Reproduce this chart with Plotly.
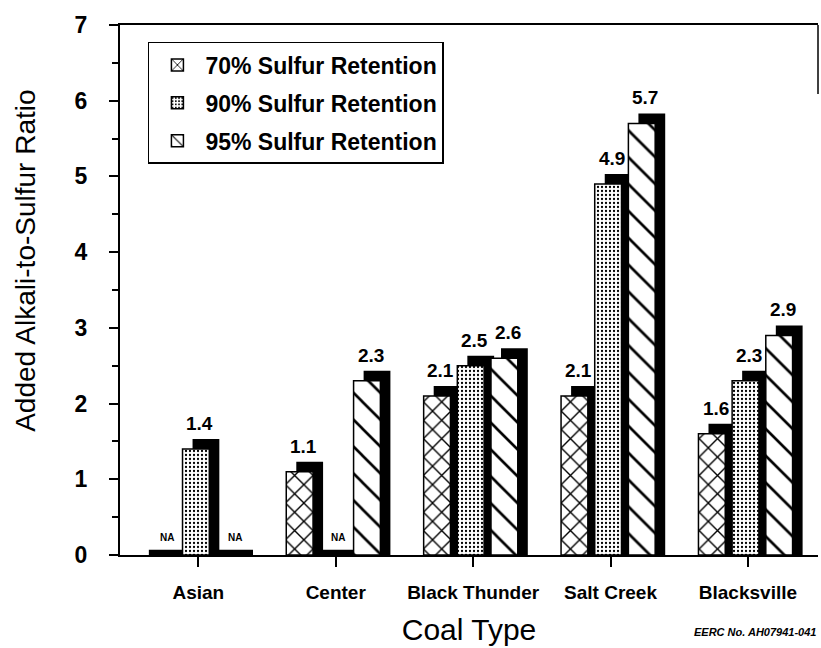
import plotly.graph_objects as go

# Coal types along the x axis
categories = ["Asian", "Center", "Black Thunder", "Salt Creek", "Blacksville"]

# Added alkali-to-sulfur ratio for each retention target (None = not available)
retention_70 = [None, 1.1, 2.1, 2.1, 1.6]
retention_90 = [1.4, None, 2.5, 4.9, 2.3]
retention_95 = [None, 2.3, 2.6, 5.7, 2.9]

series_names = ["70% Sulfur Retention", "90% Sulfur Retention", "95% Sulfur Retention"]
y_ticks = [0, 1, 2, 3, 4, 5, 6, 7]

FONT = "Arial, Liberation Sans, Helvetica, sans-serif"

# bar geometry in axis units
BAR_W = 0.195
OFFSETS = [-0.36, -0.115, 0.13]
DEPTH_X = 0.073     # 3-D side depth along x
DEPTH_Y = 0.132     # 3-D top depth along y
NA_H = 0.07

patterns = [
    dict(shape="x", size=13, solidity=0.2, fgcolor="black", bgcolor="white", fgopacity=1),
    dict(shape=".", size=4, solidity=0.25, fgcolor="black", bgcolor="white", fgopacity=1),
    dict(shape="\\", size=19, solidity=0.14, fgcolor="black", bgcolor="white", fgopacity=1),
]

series = [retention_70, retention_90, retention_95]
xpos = list(range(len(categories)))

fig = go.Figure()
annotations = []

for k, (name, vals) in enumerate(zip(series_names, series)):
    off = OFFSETS[k]
    # black extruded side/top of each bar
    tops = [None if v is None else v + DEPTH_Y for v in vals]
    fig.add_trace(go.Bar(
        x=xpos, y=tops, base=0, offset=off + DEPTH_X, width=BAR_W,
        marker=dict(color="black", line=dict(width=0)),
        showlegend=False, hoverinfo="skip",
    ))
    # flat slab for missing values
    na_vals = [NA_H if v is None else None for v in vals]
    fig.add_trace(go.Bar(
        x=xpos, y=na_vals, base=0, offset=off, width=BAR_W + DEPTH_X,
        marker=dict(color="black", line=dict(width=0)),
        showlegend=False, hoverinfo="skip",
    ))
    # patterned front face
    fig.add_trace(go.Bar(
        x=xpos, y=vals, offset=off, width=BAR_W, name=name,
        legendgroup=name,
        marker=dict(color="white", pattern=patterns[k],
                    line=dict(color="black", width=1.5)),
    ))
    for i, v in enumerate(vals):
        cx = i + off + (BAR_W + DEPTH_X) / 2
        if v is None:
            annotations.append(dict(
                x=cx, y=NA_H, xref="x", yref="y", text="<b>NA</b>",
                showarrow=False, yanchor="bottom", yshift=5,
                font=dict(family=FONT, size=10, color="black")))
        else:
            annotations.append(dict(
                x=cx - 0.01, y=v + DEPTH_Y, xref="x", yref="y", text=f"<b>{v}</b>",
                showarrow=False, yanchor="bottom", yshift=3,
                font=dict(family=FONT, size=19, color="black")))

# y-axis title
annotations.append(dict(
    x=-0.1347, y=0.555, xref="paper", yref="paper", xanchor="center", yanchor="middle",
    text="Added Alkali-to-Sulfur Ratio", textangle=-90, showarrow=False,
    font=dict(family=FONT, size=28, color="black")))

annotations.append(dict(
    x=1.0, y=-0.145, xref="paper", yref="paper", xanchor="right", yanchor="middle",
    text="<b><i>EERC No. AH07941-041</i></b>", showarrow=False,
    font=dict(family=FONT, size=11, color="black")))

fig.update_layout(
    width=821, height=648,
    margin=dict(l=120, r=3, t=25, b=93),
    paper_bgcolor="white", plot_bgcolor="white",
    barmode="overlay",
    font=dict(family=FONT, color="black"),
    showlegend=True,
    legend=dict(
        x=0.04, y=0.968, xanchor="left", yanchor="top",
        bgcolor="white", bordercolor="black", borderwidth=1.5,
        font=dict(family=FONT, size=23, color="black", weight="bold"),
        tracegroupgap=5, itemwidth=46, entrywidth=291,
    ),
    annotations=annotations,
    shapes=[dict(type="line", xref="paper", yref="paper", x0=1, x1=1, y0=0.87, y1=1.0,
                 line=dict(color="black", width=1.5))],
)

fig.update_xaxes(
    range=[-0.57, 4.51], tickmode="array", tickvals=xpos,
    ticktext=[f"<b>{c}</b>" for c in categories],
    ticks="outside", ticklen=10, tickwidth=1.5, tickcolor="black",
    tickfont=dict(family=FONT, size=19, color="black"),
    ticklabelstandoff=9,
    showline=True, linecolor="black", linewidth=2, mirror=True,
    showgrid=False, zeroline=False,
    title=dict(text="Coal Type", font=dict(family=FONT, size=30, color="black"), standoff=17),
)

fig.update_yaxes(
    range=[0, 7], tickmode="array", tickvals=y_ticks,
    ticktext=[f"<b>{t}</b>" for t in y_ticks],
    ticks="outside", ticklen=9, tickwidth=1.5, tickcolor="black",
    minor=dict(dtick=0.5, ticks="outside", ticklen=6, tickwidth=1.5, tickcolor="black"),
    tickfont=dict(family=FONT, size=23, color="black"),
    ticklabelstandoff=17,
    showline=True, linecolor="black", linewidth=2,
    showgrid=False, zeroline=False,
)

fig.write_html("out.html")
